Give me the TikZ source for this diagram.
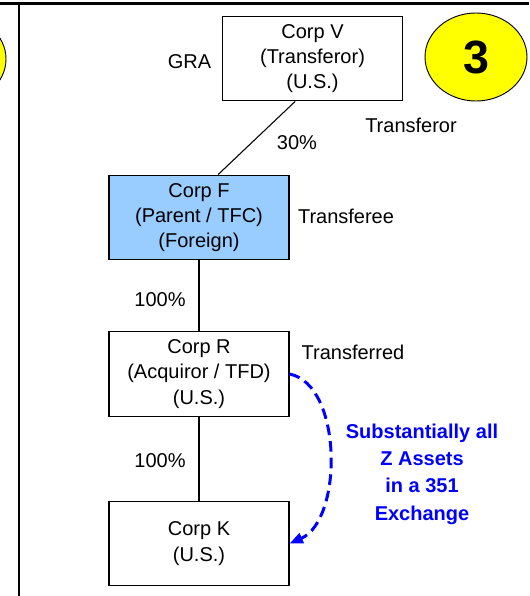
\documentclass[tikz,border=0pt]{standalone}
\usepackage{fontspec}
\setmainfont{Liberation Sans}
\usepackage{tikz}
\usetikzlibrary{arrows.meta}
\usetikzlibrary{shapes.geometric}
\definecolor{tfcblue}{RGB}{153,204,255}
\definecolor{badgeyellow}{RGB}{255,255,0}

\begin{document}
\begin{tikzpicture}[x=0.75pt,y=-0.75pt,
			thin,corp node/.style={rectangle,draw,line width=0.9pt,
				minimum width=135pt,minimum height=63.5pt,align=center,
				font=\fontsize{15}{19}\selectfont,inner sep=0pt},
			lbl node/.style={font=\fontsize{15}{19}\selectfont,inner sep=0pt},
			badge node/.style={ellipse,draw,fill=badgeyellow,line width=0.7pt,
				minimum width=76.5pt,minimum height=66pt,inner sep=0pt,
				font=\fontsize{35}{40}\selectfont\bfseries}]
			\useasboundingbox (0,0) rectangle (529,596);
			
			% panel frame
			\draw[line width=2pt] (0,3.5) -- (529,3.5);
			\draw[line width=1.75pt] (19,3.5) -- (19,596);
			\node[badge node] (prev) at (-45,59) {};
			\node[badge node] (num) at (476,57) {3};
			
			\node[corp node] (V) at (312.5,58.5) {Corp V\\(Transferor)\\(U.S.)};
			\node[corp node,fill=tfcblue] (F) at (199,217.5) {Corp F\\(Parent / TFC)\\(Foreign)};
			\node[corp node] (R) at (199,374) {Corp R\\(Acquiror / TFD)\\(U.S.)};
			\node[corp node] (K) at (199,543.5) {Corp K\\(U.S.)};
			
			\node[lbl node] (GRA) at (189.5,61.5) {GRA};
			\node[lbl node] (Vrole) at (411,125) {Transferor};
			\node[lbl node] (Fpct) at (297,143) {30\%};
			\node[lbl node] (Frole) at (346,216) {Transferee};
			\node[lbl node] (Rrole) at (353,352) {Transferred};
			\node[lbl node] (Rpct) at (160,300) {100\%};
			\node[lbl node] (Kpct) at (160,461) {100\%};
			\node[lbl node,text=blue,align=center,
				font=\fontsize{15}{20.5}\selectfont\bfseries] (Z) at (422,474)
				{Substantially all\\Z Assets\\in a 351\\Exchange};
			
			\path[-,line width=0.8pt]
			(V.248) edge (F.66)
			(F) edge (R)
			(R) edge (K);
			
			% 351 transfer
			\draw[blue,line width=2.25pt,dash pattern=on 8pt off 4.5pt,
				-{Triangle[length=10pt,width=8pt]}]
			(R.east) .. controls (343,385) and (343,520) .. (K.east);
		\end{tikzpicture}
\end{document}
